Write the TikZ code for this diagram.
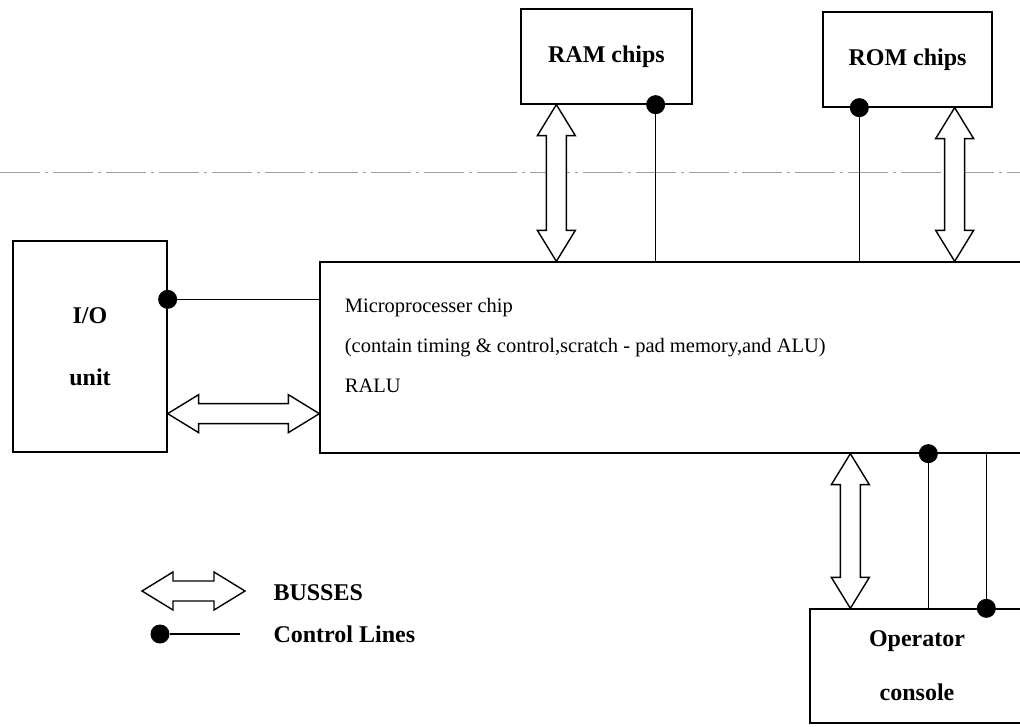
\documentclass[tikz,border=0pt]{standalone}
\usepackage{fontspec}
\setmainfont{Liberation Serif}
\usetikzlibrary{calc}

\tikzset{
  box/.style={draw, line width=1.3pt, inner sep=0pt},
  lbl/.style={font=\fontsize{24}{30}\selectfont\bfseries},
  bus/.style={draw, line width=1.4pt, fill=white, line join=miter},
  ctrl/.style={line width=1.2pt},
  cdot/.style={circle, fill=black, inner sep=0pt, minimum size=19pt},
}

% fat double-headed bus arrows, vertical (top, bottom) and horizontal (left, right)
\newcommand{\vbus}[2]{%
  \draw[bus] let \p1=(#1), \p2=(#2) in
    (\x1,\y1) -- (\x1+19pt,\y1-31pt) -- (\x1+10pt,\y1-31pt)
    -- (\x2+10pt,\y2+31pt) -- (\x2+19pt,\y2+31pt) -- (\x2,\y2)
    -- (\x2-19pt,\y2+31pt) -- (\x2-10pt,\y2+31pt)
    -- (\x1-10pt,\y1-31pt) -- (\x1-19pt,\y1-31pt) -- cycle;}
\newcommand{\hbus}[2]{%
  \draw[bus] let \p1=(#1), \p2=(#2) in
    (\x1,\y1) -- (\x1+31pt,\y1+19pt) -- (\x1+31pt,\y1+10pt)
    -- (\x2-31pt,\y2+10pt) -- (\x2-31pt,\y2+19pt) -- (\x2,\y2)
    -- (\x2-31pt,\y2-19pt) -- (\x2-31pt,\y2-10pt)
    -- (\x1+31pt,\y1-10pt) -- (\x1+31pt,\y1-19pt) -- cycle;}

\begin{document}
\begin{tikzpicture}[x=1pt, y=-1pt]
\useasboundingbox (0,0) rectangle (1020,726);
\clip (0,0) rectangle (1020,726);

% faint board edge
\draw [gray!75, line width=0.9pt, dash pattern=on 40pt off 5pt on 3pt off 5pt] (0,172) -- (1020,172);

% boxes
\node [box, lbl, minimum width=171pt, minimum height=95pt] (ram) at (606.5,56.5) {RAM chips};
\node [box, lbl, minimum width=169pt, minimum height=95pt] (rom) at (907.5,59.5) {ROM chips};
\node [box, align=center, minimum width=154pt, minimum height=211pt,
       font=\fontsize{24}{62}\selectfont\bfseries] (io) at (90,346.5) {I/O\\unit};
\node [box, minimum width=710pt, minimum height=191pt] (mp) at (675,357.5) {};
\node [anchor=west, align=left, font=\fontsize{20.5}{40}\selectfont] (mptext)
      at ($(mp.west)+(22,-12)$)
      {Microprocesser chip\\(contain timing \& control,scratch - pad memory,and ALU)\\RALU};
\node [box, align=center, minimum width=214pt, minimum height=114pt,
       font=\fontsize{24}{54}\selectfont\bfseries] (con) at (917,666) {Operator\\console};

% control lines
\node [cdot] (ramdot) at ($(ram.south east)+(-37,0)$) {};
\node [cdot] (romdot) at ($(rom.south west)+(37,0)$) {};
\node [cdot] (iodot) at ($(io.north east)+(0,59)$) {};
\node [cdot] (mpdot) at ($(mp.south west)+(609,0)$) {};
\node [cdot] (condot) at ($(con.north west)+(177,0)$) {};
\draw [ctrl] (ramdot) -- (ramdot |- mp.north);
\draw [ctrl] (romdot) -- (romdot |- mp.north);
\draw [ctrl] (iodot) -- (iodot -| mp.west);
\draw [ctrl] (mpdot) -- (mpdot |- con.north);
\draw [ctrl] (condot) -- (condot |- mp.south);

% busses
\coordinate (ramtop) at ($(ram.south west)+(36,0)$);
\coordinate (rambot) at (ramtop |- mp.north);
\coordinate (romtop) at ($(rom.south east)+(-38,0)$);
\coordinate (rombot) at (romtop |- mp.north);
\coordinate (iobus) at ($(io.south east)+(0,-39)$);
\coordinate (mpbus) at (iobus -| mp.west);
\coordinate (conbus) at ($(con.north west)+(41,0)$);
\coordinate (mpbot) at (conbus |- mp.south);
\vbus{ramtop}{rambot}
\vbus{romtop}{rombot}
\hbus{iobus}{mpbus}
\vbus{mpbot}{conbus}

% legend
\coordinate (legl) at (142,591);
\coordinate (legr) at (245,591);
\hbus{legl}{legr}
\node [lbl, anchor=west] (busses) at (270,593) {BUSSES};
\node [cdot] (legdot) at (160,634) {};
\coordinate (legend) at (240,634);
\draw [ctrl] (legdot) -- (legend);
\node [lbl, anchor=west] (ctrllbl) at (270,634) {Control Lines};
\end{tikzpicture}
\end{document}
